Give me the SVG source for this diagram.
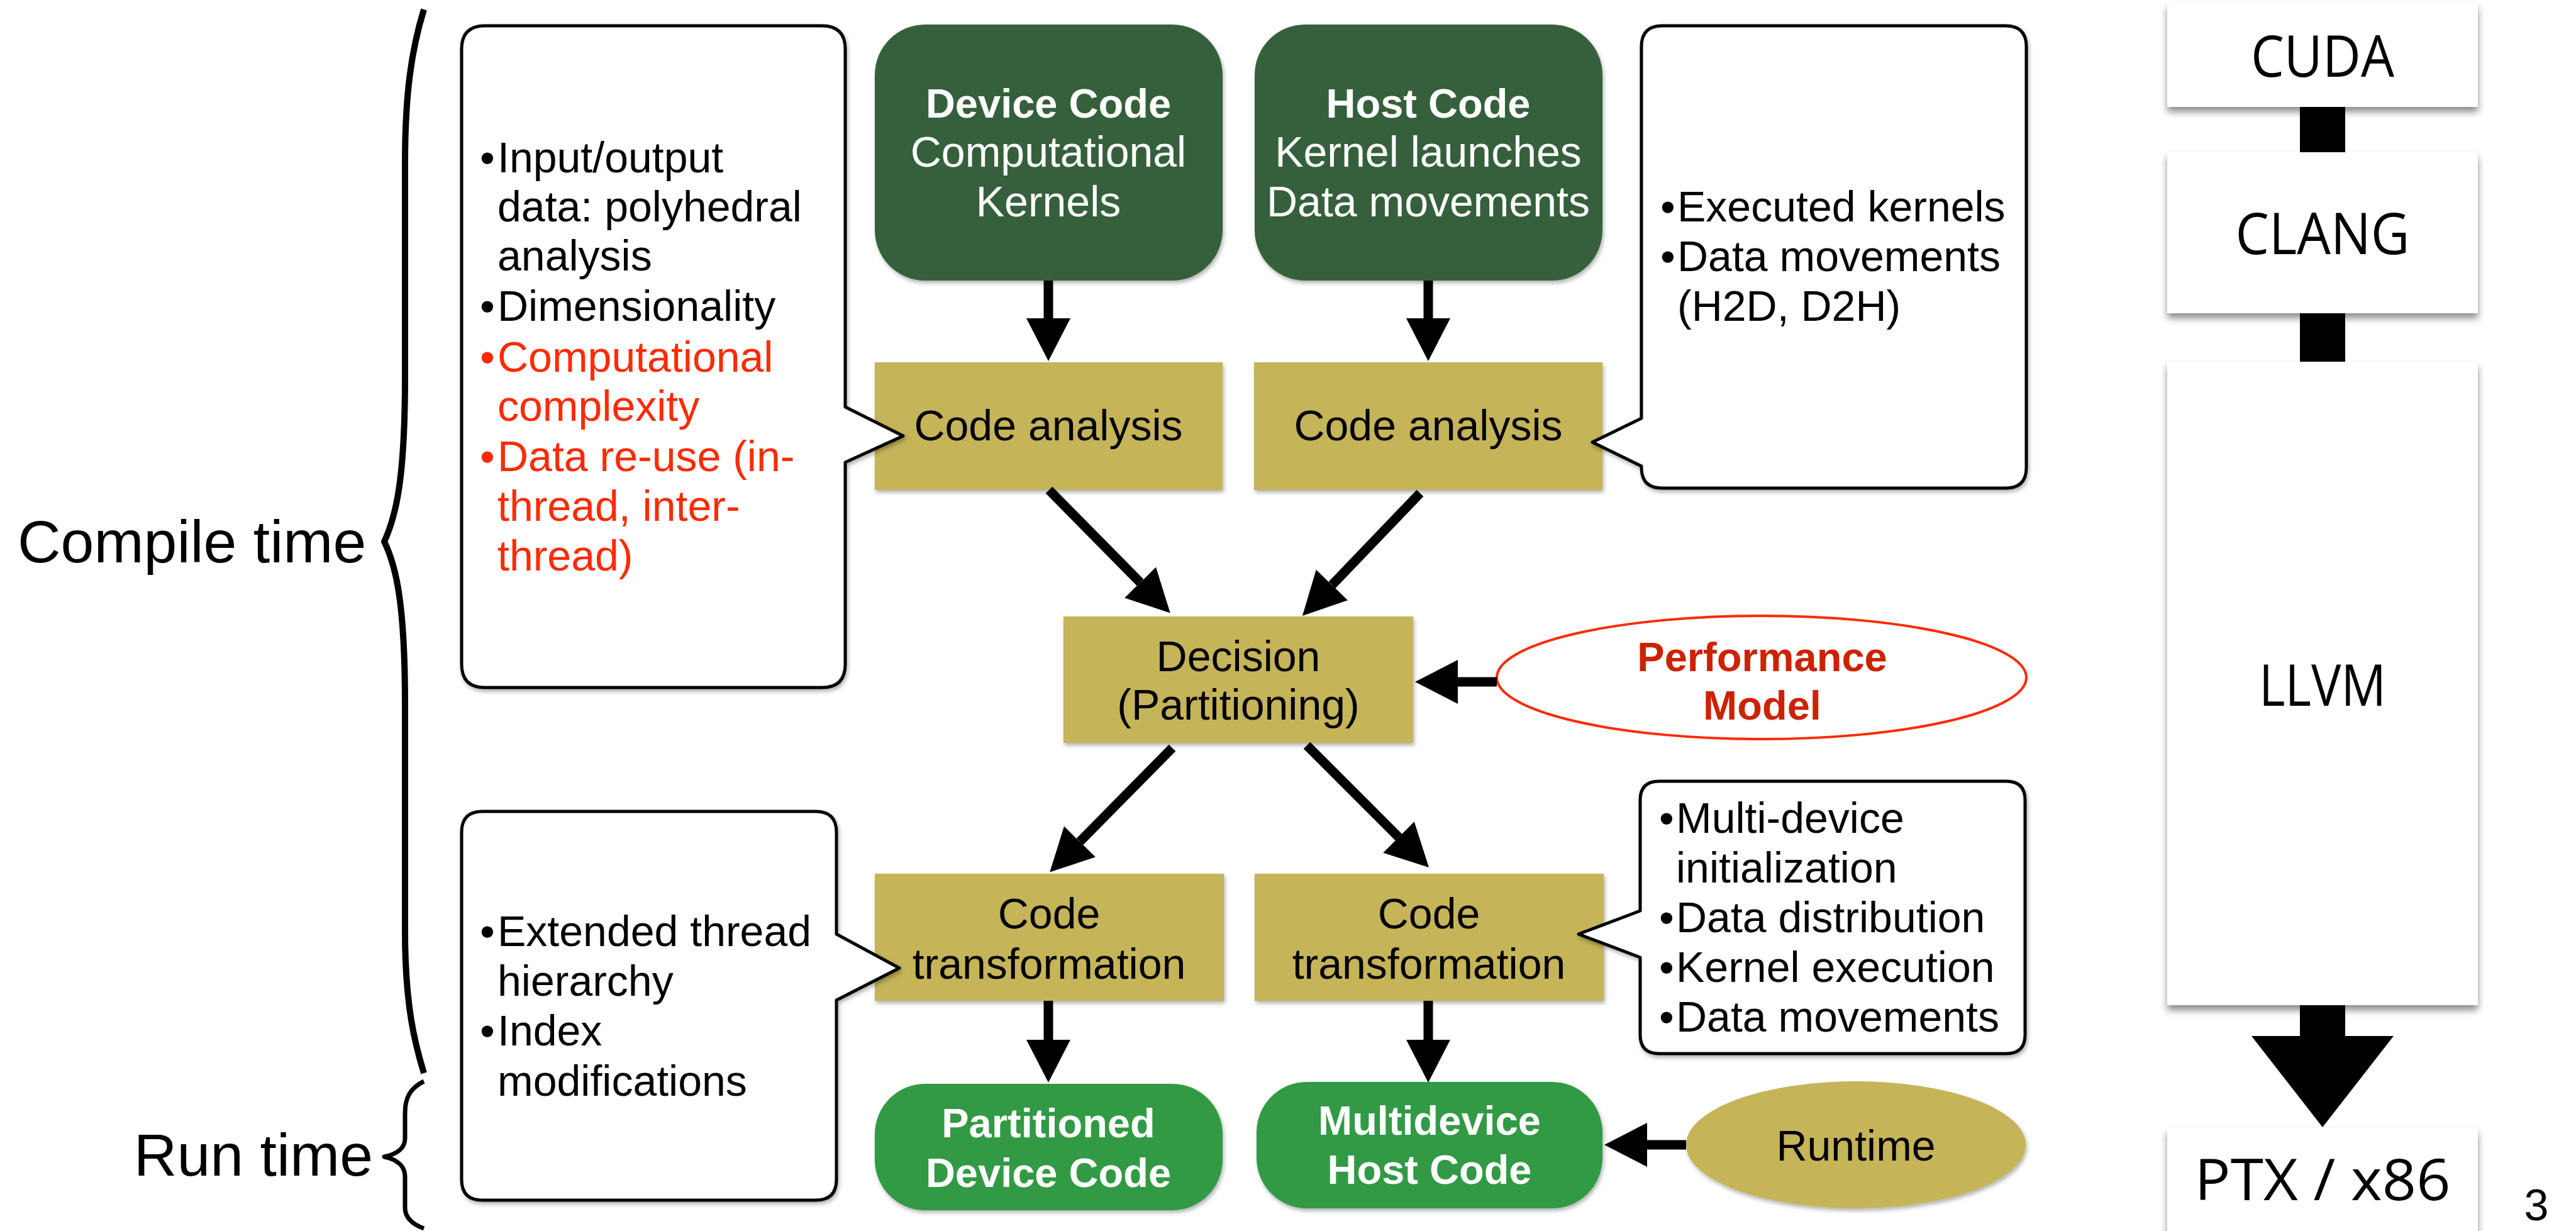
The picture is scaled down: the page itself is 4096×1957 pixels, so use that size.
<svg xmlns="http://www.w3.org/2000/svg" width="4096" height="1957" viewBox="0 0 4096 1957">
<style>
text{font-family:"Liberation Sans",Arial,sans-serif;}
.t{font-size:68px;fill:#000;}
.w{font-size:68px;fill:#fff;text-anchor:middle;}
.wb2{font-size:65px;font-weight:bold;}
.c{text-anchor:middle;}
.red{fill:#ff2a00;}
.big{font-size:95px;fill:#000;}
.col{font-family:"Open Sans","DejaVu Sans",sans-serif;font-size:92px;fill:#000;text-anchor:middle;}
.dg{fill:#36613b;}
.bg{fill:#329a44;}
.ol{fill:#c5b459;}
.call{fill:#fff;stroke:#000;stroke-width:5;stroke-linejoin:round;}
.wb{fill:#fff;}
.ln{stroke:#000;stroke-width:15;fill:none;}
.brace{fill:none;stroke:#000;stroke-linecap:butt;stroke-linejoin:round;}
</style>
<defs>
<marker id="ah" markerUnits="userSpaceOnUse" viewBox="0 0 68 70" markerWidth="68" markerHeight="70" refX="0" refY="35" orient="auto">
<path d="M0,0 L68,35 L0,70 Z" fill="#000"/>
</marker>
<filter id="sh" x="-10%" y="-10%" width="120%" height="130%">
<feDropShadow dx="2" dy="4" stdDeviation="3" flood-color="#000" flood-opacity="0.3"/>
</filter>
<filter id="sh2" x="-10%" y="-10%" width="120%" height="130%">
<feDropShadow dx="0" dy="8" stdDeviation="6" flood-color="#000" flood-opacity="0.45"/>
</filter>
</defs>
<rect width="4096" height="1957" fill="#fff"/>

<g id="compile-time">
<path class="brace" stroke-width="10" d="M674,15 C654,80 644,150 644,260 L644,600 C644,760 630,820 611,861 C630,900 644,960 644,1120 L644,1480 C644,1600 660,1660 674,1706"/>
<text class="big" x="28" y="894">Compile time</text>
</g>
<g id="run-time">
<path class="brace" stroke-width="7" d="M674,1719 C652,1730 644,1745 644,1770 L644,1810 C644,1826 630,1835 611,1839 C630,1843 644,1853 644,1870 L644,1920 C644,1936 655,1946 674,1953"/>
<text class="big" x="593" y="1869" text-anchor="end">Run time</text>
</g>

<g id="device-code" filter="url(#sh)">
<rect class="dg" x="1391" y="39" width="553" height="407" rx="80" ry="80"/>
<text class="w wb2" x="1667" y="187">Device Code</text>
<text class="w" x="1667" y="265">Computational</text>
<text class="w" x="1667" y="344">Kernels</text>
</g>
<g id="host-code" filter="url(#sh)">
<rect class="dg" x="1995" y="39" width="553" height="407" rx="80" ry="80"/>
<text class="w wb2" x="2271" y="187">Host Code</text>
<text class="w" x="2271" y="265">Kernel launches</text>
<text class="w" x="2271" y="344">Data movements</text>
</g>
<g id="code-analysis-device" filter="url(#sh)">
<rect class="ol" x="1391" y="576" width="553" height="203"/>
<text class="t c" x="1667" y="700">Code analysis</text>
</g>
<g id="code-analysis-host" filter="url(#sh)">
<rect class="ol" x="1994" y="576" width="554" height="203"/>
<text class="t c" x="2271" y="700">Code analysis</text>
</g>
<g id="decision" filter="url(#sh)">
<rect class="ol" x="1691" y="980" width="556" height="201"/>
<text class="t c" x="1969" y="1067">Decision</text>
<text class="t c" x="1969" y="1144">(Partitioning)</text>
</g>
<g id="performance-model">
<ellipse cx="2801" cy="1077" rx="421" ry="98" fill="#fff" stroke="#ff2a00" stroke-width="4"/>
<text x="2802" y="1067" font-size="65" font-weight="bold" fill="#cc2200" text-anchor="middle">Performance</text>
<text x="2802" y="1144" font-size="65" font-weight="bold" fill="#cc2200" text-anchor="middle">Model</text>
</g>
<g id="code-transformation-device" filter="url(#sh)">
<rect class="ol" x="1391" y="1389" width="555" height="202"/>
<text class="t c" x="1668" y="1476">Code</text>
<text class="t c" x="1668" y="1556">transformation</text>
</g>
<g id="code-transformation-host" filter="url(#sh)">
<rect class="ol" x="1995" y="1389" width="555" height="202"/>
<text class="t c" x="2272" y="1476">Code</text>
<text class="t c" x="2272" y="1556">transformation</text>
</g>
<g id="partitioned-device-code" filter="url(#sh)">
<rect class="bg" x="1391" y="1723" width="553" height="201" rx="80" ry="80"/>
<text class="w wb2" x="1667" y="1808">Partitioned</text>
<text class="w wb2" x="1667" y="1887">Device Code</text>
</g>
<g id="multidevice-host-code" filter="url(#sh)">
<rect class="bg" x="1998" y="1720" width="550" height="201" rx="80" ry="80"/>
<text class="w wb2" x="2273" y="1804">Multidevice</text>
<text class="w wb2" x="2273" y="1882">Host Code</text>
</g>
<g id="runtime" filter="url(#sh)">
<ellipse class="ol" cx="2951" cy="1820" rx="270" ry="101"/>
<text class="t c" x="2951" y="1845">Runtime</text>
</g>

<g id="connectors">
<line class="ln" x1="1667" y1="446" x2="1667" y2="506" marker-end="url(#ah)"/>
<line class="ln" x1="2271" y1="446" x2="2271" y2="506" marker-end="url(#ah)"/>
<line class="ln" x1="1668" y1="779" x2="1813" y2="926" marker-end="url(#ah)"/>
<line class="ln" x1="2258" y1="784" x2="2118" y2="930" marker-end="url(#ah)"/>
<line class="ln" x1="1864" y1="1189" x2="1717" y2="1338" marker-end="url(#ah)"/>
<line class="ln" x1="2078" y1="1185" x2="2224" y2="1331" marker-end="url(#ah)"/>
<line class="ln" x1="2380" y1="1084" x2="2318" y2="1084" marker-end="url(#ah)"/>
<line class="ln" x1="1667" y1="1591" x2="1667" y2="1653" marker-end="url(#ah)"/>
<line class="ln" x1="2271" y1="1591" x2="2271" y2="1653" marker-end="url(#ah)"/>
<line class="ln" x1="2681" y1="1820" x2="2619" y2="1820" marker-end="url(#ah)"/>
<rect x="3657" y="168" width="72" height="76" fill="#000"/>
<rect x="3657" y="496" width="72" height="81" fill="#000"/>
<path d="M3657,1596 H3729 V1647 H3806 L3693,1792 L3580,1647 H3657 Z" fill="#000"/>
</g>

<g id="note-device-analysis" filter="url(#sh)">
<path class="call" d="M771,41 H1307 Q1344,41 1344,78 V647 L1436,693 L1344,735 V1056 Q1344,1093 1307,1093 H771 Q734,1093 734,1056 V78 Q734,41 771,41 Z"/>
<text class="t" x="763" y="274">•<tspan x="791">Input/output</tspan></text>
<text class="t" x="791" y="352">data: polyhedral</text>
<text class="t" x="791" y="430">analysis</text>
<text class="t" x="763" y="510">•<tspan x="791">Dimensionality</tspan></text>
<text class="t red" x="763" y="591">•<tspan x="791">Computational</tspan></text>
<text class="t red" x="791" y="669">complexity</text>
<text class="t red" x="763" y="749">•<tspan x="791">Data re-use (in-</tspan></text>
<text class="t red" x="791" y="828">thread, inter-</text>
<text class="t red" x="791" y="907">thread)</text>
</g>
<g id="note-device-transformation" filter="url(#sh)">
<path class="call" d="M767,1290 H1297 Q1330,1290 1330,1323 V1485 L1430,1539 L1330,1590 V1875 Q1330,1908 1297,1908 H767 Q734,1908 734,1875 V1323 Q734,1290 767,1290 Z"/>
<text class="t" x="763" y="1504">•<tspan x="791">Extended thread</tspan></text>
<text class="t" x="791" y="1583">hierarchy</text>
<text class="t" x="763" y="1662">•<tspan x="791">Index</tspan></text>
<text class="t" x="791" y="1742">modifications</text>
</g>
<g id="note-host-analysis" filter="url(#sh)">
<path class="call" d="M2643,41 H3189 Q3222,41 3222,74 V743 Q3222,776 3189,776 H2643 Q2610,776 2610,743 V741 L2532,703 L2610,665 V74 Q2610,41 2643,41 Z"/>
<text class="t" x="2640" y="352">•<tspan x="2667">Executed kernels</tspan></text>
<text class="t" x="2640" y="431">•<tspan x="2667">Data movements</tspan></text>
<text class="t" x="2667" y="510">(H2D, D2H)</text>
</g>
<g id="note-host-transformation" filter="url(#sh)">
<path class="call" d="M2638,1242 H3190 Q3220,1242 3220,1272 V1645 Q3220,1675 3190,1675 H2638 Q2608,1675 2608,1645 V1522 L2510,1485 L2608,1448 V1272 Q2608,1242 2638,1242 Z"/>
<text class="t" x="2638" y="1324">•<tspan x="2665">Multi-device</tspan></text>
<text class="t" x="2665" y="1403">initialization</text>
<text class="t" x="2638" y="1482">•<tspan x="2665">Data distribution</tspan></text>
<text class="t" x="2638" y="1561">•<tspan x="2665">Kernel execution</tspan></text>
<text class="t" x="2638" y="1640">•<tspan x="2665">Data movements</tspan></text>
</g>

<g id="cuda" filter="url(#sh2)">
<rect class="wb" x="3446" y="5" width="494" height="165"/>
<text class="col" x="3693" y="122" textLength="228" lengthAdjust="spacingAndGlyphs">CUDA</text>
</g>
<g id="clang" filter="url(#sh2)">
<rect class="wb" x="3446" y="242" width="494" height="256"/>
<text class="col" x="3693" y="404" textLength="277" lengthAdjust="spacingAndGlyphs">CLANG</text>
</g>
<g id="llvm" filter="url(#sh2)">
<rect class="wb" x="3446" y="575" width="494" height="1023"/>
<text class="col" x="3693" y="1122" textLength="202" lengthAdjust="spacingAndGlyphs">LLVM</text>
</g>
<g id="ptx-x86" filter="url(#sh2)">
<rect class="wb" x="3446" y="1793" width="494" height="170"/>
<text class="col" x="3693" y="1908" font-size="88" textLength="407" lengthAdjust="spacingAndGlyphs">PTX / x86</text>
</g>
<text x="4033" y="1940" font-size="70" text-anchor="middle" fill="#000">3</text>
</svg>
